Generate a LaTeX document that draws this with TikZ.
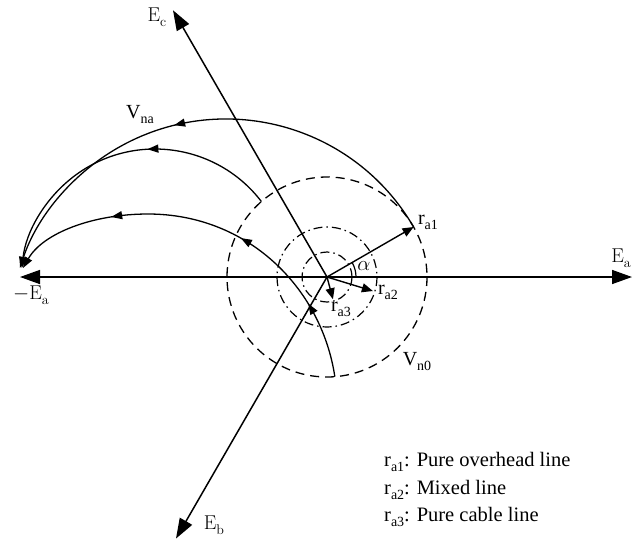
\documentclass[tikz,border=0pt]{standalone}
\usepackage{fontspec}
\newfontfamily\tms{Liberation Serif}
\usetikzlibrary{arrows.meta,decorations.markings,calc}
\newcommand\sbs[1]{\raisebox{-5pt}{\fontsize{14}{14}\selectfont #1}}
\tikzset{
  axis/.style={line width=1.5pt,-{Triangle[length=20pt,width=14pt]}},
  rvec/.style={line width=1.4pt,-{Triangle[length=11pt,width=9pt]}},
  vcurve/.style={line width=1.3pt,-{Triangle[length=11pt,width=8pt]}},
  bigdash/.style={line width=1.3pt,dash pattern=on 9pt off 6pt},
  dashdot/.style={line width=1.2pt,dash pattern=on 9pt off 4pt on 1.5pt off 4pt},
  midtip/.tip={Triangle[length=11pt,width=8pt]},
  elab/.style={font=\fontsize{20}{24}\selectfont,inner sep=0pt},
  tlab/.style={font=\tms\fontsize{20}{24}\selectfont,inner sep=0pt},
  legend/.style={font=\tms\fontsize{20.5}{24}\selectfont,inner sep=0pt,anchor=west},
}
\begin{document}
\begin{tikzpicture}[x=1pt,y=-1pt]
\useasboundingbox (0,0) rectangle (642,544);
\coordinate (O) at (327,277);
\coordinate (Ea) at (632,277);
\coordinate (mEa) at (20,277);
\coordinate (Ec) at ($(O)+(-120:308)$);
\coordinate (Eb) at ($(O)+(120:302)$);
\coordinate (A1) at ($(O)+(-30:100)$);
\coordinate (A2) at ($(O)+(-131:100)$);
\coordinate (A3) at ($(O)+(17:48)$);
\coordinate (A4) at ($(O)+(75:23)$);
\coordinate (B3) at ($(O)+(85.5:100)$);
\coordinate (T3) at (148,214);
\coordinate (E3) at (23,268);
% circles
\draw[bigdash] (O) circle[radius=100];
\draw[dashdot] (O) circle[radius=50];
\draw[dashdot] (O) circle[radius=25];
% axes
\draw[axis] (O) -- (Ea);
\draw[axis] (O) -- (mEa);
\draw[axis] (O) -- (Ec);
\draw[axis] (O) -- (Eb);
% r vectors
\draw[rvec] (O) -- (A1);
\draw[rvec] (O) -- (A3);
\draw[rvec] (O) -- (A4);
% alpha arc
\draw[line width=1.2pt] ($(O)+(-30:29)$) arc[start angle=-30,end angle=0,radius=29];
% V curves
\draw[vcurve,postaction={decorate},decoration={markings,mark=at position 0.56 with {\arrow{midtip}}}]
  (A1) arc[start angle=-30.15,end angle=-161.7,radius=217];
\draw[vcurve,postaction={decorate},decoration={markings,mark=at position 0.41 with {\arrow{midtip}}}]
  (A2) arc[start angle=-37.45,end angle=-173.6,radius=134];
\draw[vcurve,postaction={decorate},decoration={markings,
    mark=at position 0.19 with {\arrow{midtip}},
    mark=at position 0.42 with {\arrow{midtip}},
    mark=at position 0.745 with {\arrow{midtip}}}]
  (B3) .. controls (321.5,288) and (248,214) .. (T3)
       .. controls (93,214) and (43,233) .. (E3);
% labels
\node[elab] (lEc) at (157,17) {E\sbs{c}};
\node[elab] (lEa) at (621,258) {E\sbs{a}};
\node[elab] (lmEa) at (31,295) {$-$E\sbs{a}};
\node[elab] (lEb) at (214,525) {E\sbs{b}};
\node[tlab] (lVna) at (140,115) {V\sbs{na}};
\node[tlab] (lVn0) at (417,362) {V\sbs{n0}};
\node[tlab] (lra1) at (428,222) {r\sbs{a1}};
\node[tlab] (lra2) at (388,292) {r\sbs{a2}};
\node[tlab] (lra3) at (341,309) {r\sbs{a3}};
\node[tlab] (lalpha) at (364,266) {$\alpha$};
\node[legend] (leg1) at (384,462) {r\sbs{a1}: Pure overhead line};
\node[legend] (leg2) at (384,490) {r\sbs{a2}: Mixed line};
\node[legend] (leg3) at (384,517) {r\sbs{a3}: Pure cable line};
\end{tikzpicture}
\end{document}
